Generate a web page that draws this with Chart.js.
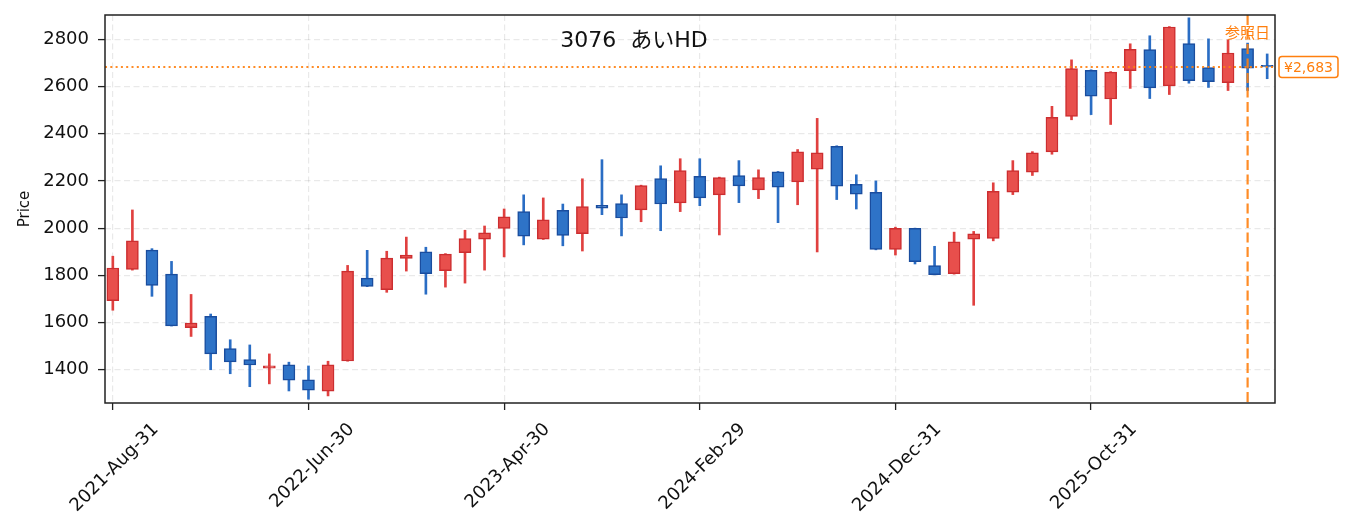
<html>
<head>
<script src="https://cdn.jsdelivr.net/npm/chart.js@4.4.1/dist/chart.umd.min.js"></script>
<style>
  html, body { margin: 0; height: 100%; background: #fff; }
  .wrapper { width: 1355px; height: 532px; position: relative; }
</style>
</head>
<body>
<div class="wrapper"><canvas id="myChart"></canvas></div>
<script>
// monthly candles, month-end dates
const dates = [
  "2021-Aug-31","2021-Sep-30","2021-Oct-31","2021-Nov-30","2021-Dec-31",
  "2022-Jan-31","2022-Feb-28","2022-Mar-31","2022-Apr-30","2022-May-31","2022-Jun-30",
  "2022-Jul-31","2022-Aug-31","2022-Sep-30","2022-Oct-31","2022-Nov-30","2022-Dec-31",
  "2023-Jan-31","2023-Feb-28","2023-Mar-31","2023-Apr-30","2023-May-31","2023-Jun-30",
  "2023-Jul-31","2023-Aug-31","2023-Sep-30","2023-Oct-31","2023-Nov-30","2023-Dec-31",
  "2024-Jan-31","2024-Feb-29","2024-Mar-31","2024-Apr-30","2024-May-31","2024-Jun-30",
  "2024-Jul-31","2024-Aug-31","2024-Sep-30","2024-Oct-31","2024-Nov-30","2024-Dec-31",
  "2025-Jan-31","2025-Feb-28","2025-Mar-31","2025-Apr-30","2025-May-31","2025-Jun-30",
  "2025-Jul-31","2025-Aug-31","2025-Sep-30","2025-Oct-31","2025-Nov-30","2025-Dec-31",
  "2026-Jan-31","2026-Feb-28","2026-Mar-31","2026-Apr-30","2026-May-31","2026-Jun-30",
  "2026-Jul-31"
];
const opens  = [1693,1825,1907,1805,1578,1626,1490,1443,1407,1421,1357,1309,1437,1788,1739,1872,1899,1820,1896,1953,
                1999,2070,1953,2075,1977,2097,2104,2077,2210,2107,2219,2141,2223,2162,2238,2196,2250,2347,2185,2152,
                1910,1999,1841,1807,1953,1956,2152,2237,2323,2473,2669,2547,2667,2757,2603,2782,2680,2616,2761,2690];
const highs  = [1881,2077,1913,1859,1719,1636,1527,1505,1467,1432,1416,1436,1842,1906,1902,1962,1919,1892,1991,2009,
                2081,2141,2128,2102,2209,2290,2141,2182,2264,2294,2294,2216,2286,2247,2240,2333,2465,2349,2226,2200,
                2004,2000,1923,1983,1986,2192,2286,2324,2516,2713,2671,2663,2781,2815,2854,2891,2802,2798,2784,2738];
const lows   = [1652,1822,1711,1585,1541,1400,1383,1328,1340,1310,1275,1289,1436,1752,1728,1818,1720,1750,1767,1822,
                1878,1929,1952,1925,1903,2057,1967,2027,1989,2070,2095,1971,2108,2125,2023,2099,1899,2121,2081,1908,
                1886,1848,1802,1805,1673,1946,2142,2223,2313,2459,2481,2439,2592,2549,2566,2614,2596,2583,2583,2633];
const closes = [1831,1946,1757,1586,1598,1467,1433,1420,1417,1356,1313,1421,1818,1753,1873,1886,1807,1890,1956,1980,
                2048,1966,2035,1969,2091,2084,2043,2180,2102,2244,2128,2214,2179,2214,2174,2323,2319,2178,2144,1910,
                1999,1858,1803,1942,1976,2156,2244,2319,2469,2676,2559,2661,2758,2594,2852,2625,2620,2742,2678,2683];

const yTicks = [1400, 1600, 1800, 2000, 2200, 2400, 2600, 2800];
const xTickIdx = [0, 10, 20, 30, 40, 50];
const refIndex = 58;
const refPrice = 2683;
const refDayLabel = "参照日";
const priceLabel = "¥2,683";
const chartTitle = "3076  あいHD";

const FONT = "'DejaVu Sans', 'Noto Sans CJK JP', sans-serif";
const ORANGE = "#ff7f0e";

const isUp = i => closes[i] >= opens[i];
const bodyFill = dates.map((d, i) => isUp(i) ? "#e84f4c" : "#2e73c7");
const bodyEdge = dates.map((d, i) => isUp(i) ? "#cc2e30" : "#1a4d9e");
const wickColor = dates.map((d, i) => isUp(i) ? "#e0403f" : "#2a6dc4");

const bodies = dates.map((d, i) => ({ x: i, y: [opens[i], closes[i]] }));
const wicks = dates.map((d, i) => ({ x: i, y: [lows[i], highs[i]] }));

const overlay = {
  id: "overlay",
  afterDatasetsDraw(chart) {
    const { ctx, chartArea: a, scales: { x, y } } = chart;
    ctx.save();
    ctx.beginPath();
    ctx.rect(a.left, a.top, a.right - a.left, a.bottom - a.top);
    ctx.clip();
    // reference price, dotted
    const yp = y.getPixelForValue(refPrice);
    ctx.strokeStyle = ORANGE;
    ctx.globalAlpha = 0.9;
    ctx.lineWidth = 2;
    ctx.setLineDash([2, 3.3]);
    ctx.beginPath(); ctx.moveTo(a.left, yp); ctx.lineTo(a.right, yp); ctx.stroke();
    // reference day, dashed
    const xp = x.getPixelForValue(refIndex);
    ctx.lineWidth = 2.2;
    ctx.setLineDash([10, 4.5]);
    ctx.beginPath(); ctx.moveTo(xp, a.top); ctx.lineTo(xp, a.bottom); ctx.stroke();
    ctx.restore();

    ctx.save();
    ctx.fillStyle = ORANGE;
    ctx.font = "15px " + FONT;
    ctx.textAlign = "center";
    ctx.textBaseline = "middle";
    ctx.fillText(refDayLabel, xp, 34);

    // price tag on the right
    ctx.font = "14px " + FONT;
    ctx.textAlign = "left";
    const tw = ctx.measureText(priceLabel).width;
    const bx = a.right + 4, bw = tw + 10, bh = 21;
    ctx.beginPath();
    ctx.roundRect(bx, yp - bh / 2, bw, bh, 3);
    ctx.fillStyle = "#fff";
    ctx.fill();
    ctx.strokeStyle = ORANGE;
    ctx.lineWidth = 1.5;
    ctx.stroke();
    ctx.fillStyle = ORANGE;
    ctx.fillText(priceLabel, bx + 5, yp + 1);

    // title
    ctx.fillStyle = "#111";
    ctx.font = "22px " + FONT;
    ctx.textAlign = "center";
    ctx.fillText(chartTitle, 634, 41);
    ctx.restore();
  },
  afterDraw(chart) {
    const { ctx, chartArea: a } = chart;
    ctx.save();
    ctx.strokeStyle = "#222";
    ctx.lineWidth = 1.5;
    ctx.strokeRect(a.left, a.top, a.right - a.left, a.bottom - a.top);
    ctx.restore();
  }
};

const gridOpts = {
  color: "rgba(0,0,0,0.085)",
  lineWidth: 1.2,
  tickColor: "#222",
  tickWidth: 1.3,
  tickLength: 7,
  tickBorderDash: []
};
const borderOpts = { display: false, dash: [6, 3.5] };

new Chart(document.getElementById("myChart"), {
  type: "bar",
  data: {
    datasets: [
      {
        label: "body",
        data: bodies,
        backgroundColor: bodyFill,
        borderColor: bodyEdge,
        borderWidth: 1.5,
        borderSkipped: false,
        barThickness: 12,
        grouped: false,
        order: 0
      },
      {
        label: "wick",
        data: wicks,
        backgroundColor: wickColor,
        borderWidth: 0,
        barThickness: 2,
        grouped: false,
        order: 1
      }
    ]
  },
  options: {
    responsive: true,
    maintainAspectRatio: false,
    animation: false,
    events: [],
    layout: { padding: { left: 0, right: 80, top: 15, bottom: 0 } },
    plugins: { legend: { display: false }, tooltip: { enabled: false } },
    scales: {
      x: {
        type: "linear",
        min: -0.4,
        max: 59.4,
        offset: false,
        afterBuildTicks: s => { s.ticks = xTickIdx.map(v => ({ value: v })); },
        afterFit: s => { s.height = 129; s.paddingLeft = 0; s.paddingRight = 0; },
        grid: Object.assign({ offset: false }, gridOpts),
        border: borderOpts,
        ticks: {
          autoSkip: false,
          minRotation: 45,
          maxRotation: 45,
          labelOffset: 43,
          padding: 9,
          color: "#111",
          font: { family: FONT, size: 18 },
          callback: v => dates[v]
        }
      },
      y: {
        min: 1259,
        max: 2903,
        afterBuildTicks: s => { s.ticks = yTicks.map(v => ({ value: v })); },
        afterFit: s => { s.width = 105; s.paddingTop = 0; s.paddingBottom = 0; },
        grid: gridOpts,
        border: borderOpts,
        ticks: {
          padding: 9,
          color: "#111",
          font: { family: FONT, size: 18 },
          callback: v => String(v)
        },
        title: {
          display: true,
          text: "Price",
          color: "#111",
          font: { family: FONT, size: 15 },
          padding: { top: 16, bottom: 0 }
        }
      }
    }
  },
  plugins: [overlay]
});
</script>
</body>
</html>
